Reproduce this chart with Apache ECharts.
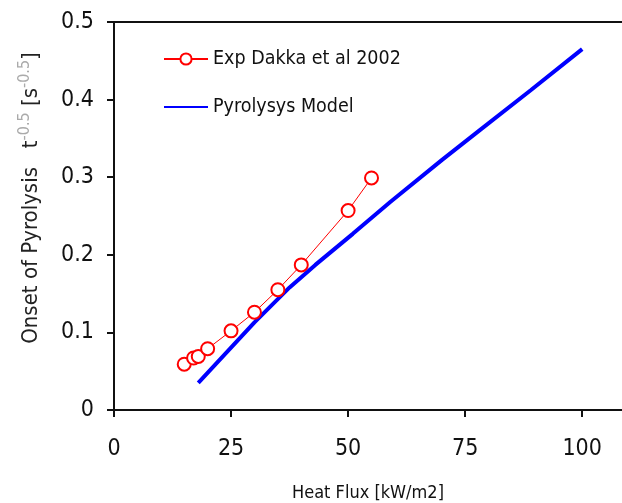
<!DOCTYPE html>
<html>
<head>
<meta charset="utf-8">
<script src="https://cdn.jsdelivr.net/npm/echarts@6/dist/echarts.min.js"></script>
<style>
  html, body { margin: 0; padding: 0; background: #fff; }
  #chart { width: 622px; height: 503px; }
</style>
</head>
<body>
<div id="chart"></div>
<script>
// experimental points (Dakka et al 2002)
var expFlux = [15, 17, 18, 20, 25, 30, 35, 40, 50, 55];
var expOnset = [0.059, 0.067, 0.069, 0.079, 0.102, 0.126, 0.155, 0.187, 0.257, 0.299];

// pyrolysis model curve
var modelFlux = [18, 30, 37.5, 43, 51, 59, 70, 78, 89, 100];
var modelOnset = [0.035, 0.113, 0.158, 0.187, 0.227, 0.268, 0.322, 0.360, 0.412, 0.465];

var xTicks = [0, 25, 50, 75, 100];

function pairs(xs, ys) {
    return xs.map(function (x, i) { return [x, ys[i]]; });
}

var font = "'Liberation Sans Narrow', 'DejaVu Sans Condensed', 'Liberation Sans', sans-serif";

var chart = echarts.init(document.getElementById('chart'));
chart.setOption({
    animation: false,
    backgroundColor: '#fff',
    textStyle: { fontFamily: font },
    grid: { left: 114, top: 22, right: 0, bottom: 93, outerBoundsMode: 'none', containLabel: false },
    legend: {
        left: 158,
        top: 44,
        orient: 'vertical',
        itemGap: 28,
        itemWidth: 44,
        itemHeight: 14,
        textStyle: { fontFamily: font, fontSize: 19.5, color: '#111' },
        data: [
            { name: 'Exp Dakka et al 2002' },
            { name: 'Pyrolysys Model', itemStyle: { opacity: 0 } }
        ]
    },
    xAxis: [{
        type: 'value',
        min: 0,
        max: 108.5,
        interval: 25,
        name: 'Heat Flux [kW/m2]',
        nameLocation: 'middle',
        nameGap: 74,
        nameTextStyle: { fontFamily: font, fontSize: 18, color: '#111' },
        axisLine: { lineStyle: { color: '#111', width: 2 } },
        axisTick: { length: 7, lineStyle: { color: '#111', width: 2 } },
        axisLabel: {
            showMaxLabel: false,
            margin: 28,
            fontFamily: font,
            fontSize: 23,
            color: '#111',
            formatter: function (v) { return xTicks.indexOf(v) >= 0 ? String(v) : ''; }
        },
        splitLine: { show: false }
    }, {
        type: 'value',
        position: 'top',
        min: 0,
        max: 108.5,
        axisLine: { show: true, onZero: false, lineStyle: { color: '#111', width: 2 } },
        axisTick: { show: false },
        axisLabel: { show: false },
        splitLine: { show: false }
    }],
    yAxis: {
        type: 'value',
        min: 0,
        max: 0.5,
        interval: 0.1,
        name: 'Onset of Pyrolysis   t{sup|-0.5} [s{sup|-0.5}]',
        nameLocation: 'middle',
        nameRotate: 90,
        nameGap: 69,
        nameTextStyle: {
            fontFamily: font,
            fontSize: 22,
            color: '#222',
            padding: [0, 0, 0, 36],
            rich: {
                sup: { fontFamily: font, fontSize: 16, color: '#aaa', verticalAlign: 'top', padding: [0, 0, 12, 0] }
            }
        },
        axisLine: { show: true, lineStyle: { color: '#111', width: 2 } },
        axisTick: { show: true, length: 7, lineStyle: { color: '#111', width: 2 } },
        axisLabel: { margin: 20, fontFamily: font, fontSize: 23, color: '#111' },
        splitLine: { show: false }
    },
    series: [{
        name: 'Exp Dakka et al 2002',
        type: 'line',
        data: pairs(expFlux, expOnset),
        symbol: 'circle',
        symbolSize: 13,
        itemStyle: { color: '#fff', borderColor: '#ff0000', borderWidth: 2 },
        lineStyle: { color: '#ff0000', width: 1 },
        z: 3
    }, {
        name: 'Pyrolysys Model',
        type: 'line',
        data: pairs(modelFlux, modelOnset),
        showSymbol: false,
        symbol: 'none',
        itemStyle: { color: '#0000ff' },
        lineStyle: { color: '#0000ff', width: 4 },
        z: 2
    }]
});
</script>
</body>
</html>
